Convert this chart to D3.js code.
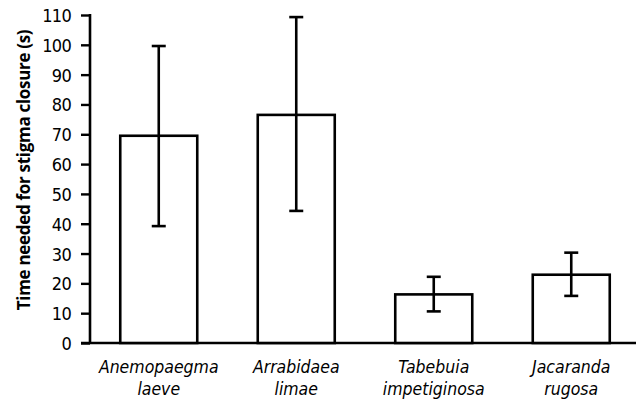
<!DOCTYPE html>
<html><head><meta charset="utf-8">
<script src="https://cdn.jsdelivr.net/npm/d3@7"></script>
<style>body{margin:0;background:#fff}svg{display:block}</style>
</head><body>
<svg id="c" width="636" height="401"></svg>
<script>
const categories = [["Anemopaegma","laeve"],["Arrabidaea","limae"],["Tabebuia","impetiginosa"],["Jacaranda","rugosa"]];
const means = [69.5, 76.5, 16.3, 22.9];
const errUpper = [99.6, 109.3, 22.2, 30.3];
const errLower = [39.2, 44.3, 10.6, 15.8];
const yTicks = [0,10,20,30,40,50,60,70,80,90,100,110];
const yLabel = "Time needed for stigma closure";
const yUnit = "(s)";

const svg = d3.select("#c");
const font = "'DejaVu Sans Condensed','DejaVu Sans',sans-serif";
const labelFont = "'Open Sans','Noto Sans',sans-serif";
const y = d3.scaleLinear().domain([0,110]).range([343,15]);
const x = d3.scaleBand().domain(categories.map(d=>d[0])).range([90,640]).paddingInner(0.44).paddingOuter(0.22);

const yAxis = svg.append("g").attr("transform","translate(90,0)")
  .call(d3.axisLeft(y).tickValues(yTicks).tickSize(9).tickPadding(10).tickSizeOuter(0));
yAxis.select(".domain").attr("stroke","#000").attr("stroke-width",2.6).attr("d","M0,14V343");
yAxis.selectAll(".tick line").attr("stroke-width",2.4);
yAxis.selectAll(".tick text").attr("font-family",font).attr("font-size",18).attr("fill","#000")
  .attr("dy","0.36em").attr("letter-spacing","-0.7");

// x axis baseline
const xAxis = svg.append("g").attr("transform","translate(0,343)")
  .call(d3.axisBottom(x).tickSize(0).tickFormat(""));
xAxis.select(".domain").attr("stroke","#000").attr("stroke-width",2.6).attr("d","M81,0H636");

// bars
svg.append("g").selectAll("rect").data(means).join("rect")
  .attr("x",(d,i)=>x(categories[i][0]))
  .attr("y",d=>y(d))
  .attr("width",x.bandwidth())
  .attr("height",d=>y(0)-y(d))
  .attr("fill","#fff").attr("stroke","#000").attr("stroke-width",2.6);

// error bars
const eg = svg.append("g").attr("stroke","#000").attr("stroke-width",2.6);
categories.forEach((c,i)=>{
  const cx = x(c[0]) + x.bandwidth()/2;
  eg.append("line").attr("x1",cx).attr("x2",cx).attr("y1",y(errUpper[i])).attr("y2",y(errLower[i]));
  eg.append("line").attr("x1",cx-7).attr("x2",cx+7).attr("y1",y(errUpper[i])).attr("y2",y(errUpper[i]));
  eg.append("line").attr("x1",cx-7).attr("x2",cx+7).attr("y1",y(errLower[i])).attr("y2",y(errLower[i]));
});

// category labels
const lg = svg.append("g").attr("font-family",font).attr("font-style","italic").attr("font-size",17.5).attr("text-anchor","middle").attr("fill","#000");
categories.forEach((c,i)=>{
  const cx = x(c[0]) + x.bandwidth()/2;
  const t = lg.append("text").attr("x",cx).attr("y",373);
  t.append("tspan").attr("x",cx).text(c[0]);
  t.append("tspan").attr("x",cx).attr("dy",22).text(c[1]);
});

// y label
const yl = svg.append("text").attr("transform","translate(30,170) rotate(-90)")
  .attr("text-anchor","middle").attr("font-family",labelFont)
  .attr("font-weight","bold").attr("font-size",17).attr("fill","#000").attr("letter-spacing","-0.3");
yl.append("tspan").text(yLabel);
yl.append("tspan").attr("dx",4).text(yUnit);
</script>
</body></html>
